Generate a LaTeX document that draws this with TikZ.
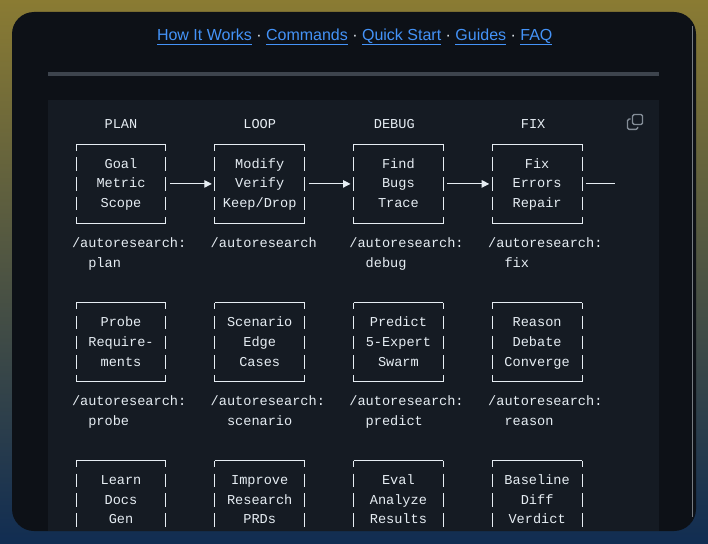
\documentclass[tikz,border=0pt]{standalone}
\usepackage{fontspec}
\setmainfont{Liberation Sans}
\newfontfamily\codefont{Liberation Mono}
\usetikzlibrary{arrows.meta,positioning}
\definecolor{pagetop}{HTML}{8A7B33}
\definecolor{pagebot}{HTML}{112D52}
\definecolor{panel}{HTML}{0D1117}
\definecolor{codebg}{HTML}{151B23}
\definecolor{rulecol}{HTML}{3D444D}
\definecolor{ink}{HTML}{E6EDF3}
\definecolor{linkcol}{HTML}{4493F8}
\definecolor{iconcol}{HTML}{848D97}

\begin{document}
\begin{tikzpicture}[
  x=1pt, y=-1pt, line cap=butt, line join=round,
  nav/.style={font=\fontsize{16}{19}\selectfont, inner sep=0pt, outer sep=0pt},
  navlink/.style={nav, text=linkcol},
  navsep/.style={nav, text=ink},
  uline/.style={draw=linkcol, line width=1.2pt},
  code/.style={font=\codefont\fontsize{13.6}{19.8}\selectfont, text=ink,
               inner sep=0pt, outer sep=0pt, text height=13.86pt, text depth=5.94pt},
  rim/.style={draw=ink, line width=0.95pt},
  rimside/.style={rim, dash pattern=on 13.5pt off 6.3pt, dash phase=6.75pt},
  stagebox/.style={code, align=center, text height=53.46pt,
    minimum width=89.8pt, minimum height=79.2pt,
    append after command={
      (\tikzlastnode.north west) edge[rim] (\tikzlastnode.north east)
      (\tikzlastnode.south west) edge[rim] (\tikzlastnode.south east)
      (\tikzlastnode.north west) edge[rimside] (\tikzlastnode.south west)
      (\tikzlastnode.north east) edge[rimside] (\tikzlastnode.south east)}},
  cmd/.style={code, align=left, anchor=west, text height=33.66pt},
  fl/.style={draw=ink, line width=0.95pt, shorten <=4pt, shorten >=3pt,
             -{Triangle[length=7.5pt, width=7.5pt]}},
  tail/.style={draw=ink, line width=0.95pt, shorten <=4pt}]

\useasboundingbox (0,0) rectangle (708,543);
\fill[top color=pagetop, bottom color=pagebot] (0,0) rectangle (708,543);
\fill[panel, rounded corners=22pt] (12,12) rectangle (696,531);
\draw[rulecol!70, line width=0.8pt] (692,26) -- (692,517);

% ================================================================ nav
\node[navlink, anchor=base west] (how) at (157,40.5) {How It Works};
\node[navsep, base right=0pt of how]    (sep1)   {\kern4.45pt·\kern4.45pt};
\node[navlink, base right=0pt of sep1]  (cmds)   {Commands};
\node[navsep, base right=0pt of cmds]   (sep2)   {\kern4.45pt·\kern4.45pt};
\node[navlink, base right=0pt of sep2]  (quick)  {Quick Start};
\node[navsep, base right=0pt of quick]  (sep3)   {\kern4.45pt·\kern4.45pt};
\node[navlink, base right=0pt of sep3]  (guides) {Guides};
\node[navsep, base right=0pt of guides] (sep4)   {\kern4.45pt·\kern4.45pt};
\node[navlink, base right=0pt of sep4]  (faq)    {FAQ};
% underlines
\draw[uline] ([yshift=-4pt]how.base west)    -- ([yshift=-4pt]how.base east);
\draw[uline] ([yshift=-4pt]cmds.base west)   -- ([yshift=-4pt]cmds.base east);
\draw[uline] ([yshift=-4pt]quick.base west)  -- ([yshift=-4pt]quick.base east);
\draw[uline] ([yshift=-4pt]guides.base west) -- ([yshift=-4pt]guides.base east);
\draw[uline] ([yshift=-4pt]faq.base west)    -- ([yshift=-4pt]faq.base east);

\fill[rulecol] (48,72) rectangle (659,76);

% ================================================================ code block
\begin{scope}
  \clip (48,100) rectangle (659,531);
  \fill[codebg] (48,100) rectangle (659,531);

  % copy icon
  \draw[iconcol, line width=1.4pt, rounded corners=1.5pt] (632.5,114.5) rectangle (642.5,124.5);
  \draw[iconcol, line width=1.4pt, rounded corners=1.5pt]
    (630.5,119) -- (627.5,119) -- (627.5,129.3) -- (637.7,129.3) -- (637.7,126.8);

  % headers
  \node[code] (plan-head)  at (121.0,124.5) {PLAN};
  \node[code] (loop-head)  at (259.7,124.5) {LOOP};
  \node[code] (debug-head) at (394.3,124.5) {DEBUG};
  \node[code] (fix-head)   at (533.1,124.5) {FIX};

  % first row: the loop
  \node[stagebox] (plan)  at (121.0,183.9) {Goal\\Metric\\Scope};
  \node[stagebox] (loop)  at (259.7,183.9) {Modify\\Verify\\Keep/Drop};
  \node[stagebox] (debug) at (398.4,183.9) {Find\\Bugs\\Trace};
  \node[stagebox] (fix)   at (537.1,183.9) {Fix\\Errors\\Repair};
  \coordinate (back) at (615,183.9);

  \draw[fl] (plan) -- (loop);
  \draw[fl] (loop) -- (debug);
  \draw[fl] (debug) -- (fix);
  \draw[tail] (fix) -- (back);

  \node[cmd] (plan-cmd)  at (72.0,253.2)  {/autoresearch:\\~~plan};
  \node[cmd, text height=13.86pt] (loop-cmd) at (210.7,243.3) {/autoresearch};
  \node[cmd] (debug-cmd) at (349.4,253.2) {/autoresearch:\\~~debug};
  \node[cmd] (fix-cmd)   at (488.2,253.2) {/autoresearch:\\~~fix};

  % second row
  \node[stagebox] (probe)    at (121.0,342.3) {Probe\\Require-\\ments};
  \node[stagebox] (scenario) at (259.7,342.3) {Scenario\\Edge\\Cases};
  \node[stagebox] (predict)  at (398.4,342.3) {Predict\\5-Expert\\Swarm};
  \node[stagebox] (reason)   at (537.1,342.3) {Reason\\Debate\\Converge};

  \node[cmd] (probe-cmd)    at (72.0,411.6)  {/autoresearch:\\~~probe};
  \node[cmd] (scenario-cmd) at (210.7,411.6) {/autoresearch:\\~~scenario};
  \node[cmd] (predict-cmd)  at (349.4,411.6) {/autoresearch:\\~~predict};
  \node[cmd] (reason-cmd)   at (488.2,411.6) {/autoresearch:\\~~reason};

  % third row (runs past the bottom edge)
  \node[stagebox] (learn)    at (121.0,500.1) {Learn\\Docs\\Gen};
  \node[stagebox] (improve)  at (259.7,500.1) {Improve\\Research\\PRDs};
  \node[stagebox] (eval)     at (398.4,500.1) {Eval\\Analyze\\Results};
  \node[stagebox] (baseline) at (537.1,500.1) {Baseline\\Diff\\Verdict};
\end{scope}

\end{tikzpicture}
\end{document}
